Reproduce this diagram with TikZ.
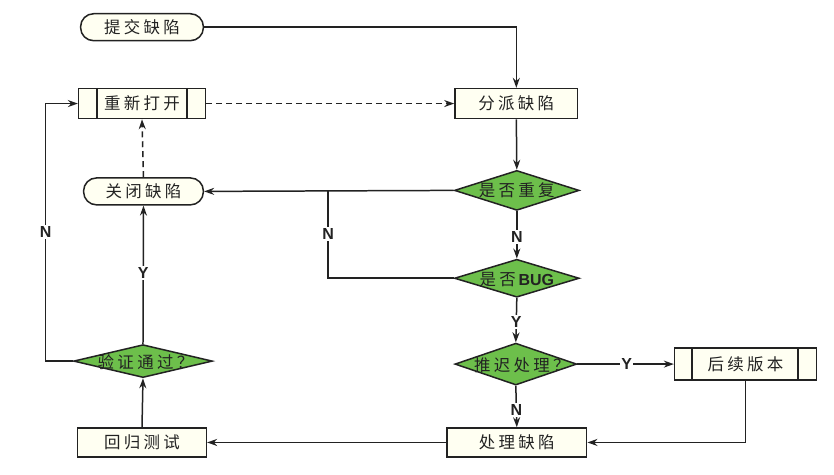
\documentclass[tikz,border=0pt]{standalone}
\usepackage{fontspec}
\newfontfamily\cjk[LetterSpace=20]{Noto Sans CJK SC}
\newfontfamily\lab{Liberation Sans}
\usetikzlibrary{shapes.geometric,arrows.meta}
\definecolor{cream}{HTML}{FFFFF2}
\definecolor{dgreen}{HTML}{6DBF4B}
\definecolor{ink}{HTML}{222222}
\begin{document}
\begin{tikzpicture}[x=1pt,y=-1pt, line width=1.5pt, draw=ink,
  >={Stealth[length=10pt,width=7pt]},
  cjkfont/.style={font=\cjk\fontsize{16.5}{16.5}\selectfont, text=ink},
  procbox/.style={draw=ink, fill=cream, minimum width=#1, minimum height=29pt, inner sep=0pt, cjkfont},
  termbox/.style={draw=ink, fill=cream, rounded corners=13pt, minimum width=#1, minimum height=27pt, inner sep=0pt, cjkfont},
  decide/.style n args={2}{draw=ink, fill=dgreen, diamond, minimum width=#1, minimum height=#2, inner sep=0pt},
  dtext/.style={cjkfont, inner sep=0pt},
  lbl/.style={fill=white, inner sep=1.5pt, font=\lab\bfseries\fontsize{16}{16}\selectfont, text=ink},
  every path/.style={draw=ink}]
\useasboundingbox (0,0) rectangle (834,474);
\fill[white] (0,0) rectangle (834,474);

% nodes
\node[termbox=123pt] (submit) at (141.5,26.5) {提交缺陷};
\node[procbox=127pt, minimum height=30pt] (reopen) at (141.5,103) {重新打开};
\node[termbox=120pt] (close) at (143,191) {关闭缺陷};
\node[procbox=123pt, minimum height=30pt] (assign) at (516.5,103) {分派缺陷};
\node[decide={125pt}{40pt}] (dup) at (517,190) {};
\node[dtext] (duptext) at (517,190) {是否重复};
\node[decide={125pt}{38pt}] (bug) at (517,278) {};
\node[dtext] (bugtext) at (517,279) {是否\,{\lab\bfseries\fontsize{16}{16}\selectfont BUG}};
\node[decide={122pt}{42pt}] (defer) at (516,364) {};
\node[dtext] (defertext) at (522,365) {推迟处理？};
\node[procbox=142pt, minimum height=32pt] (later) at (746,364) {后续版本};
\node[procbox=140pt] (handle) at (517,442.5) {处理缺陷};
\node[procbox=129pt] (regress) at (141.5,442.5) {回归测试};
\node[decide={139pt}{33pt}] (verify) at (142.5,361) {};
\node[dtext] (verifytext) at (145,362) {验证通过？};

% inner bars of predefined-process boxes
\draw ([xshift=19pt]reopen.north west) -- ([xshift=19pt]reopen.south west);
\draw ([xshift=-19pt]reopen.north east) -- ([xshift=-19pt]reopen.south east);
\draw ([xshift=18pt]later.north west) -- ([xshift=18pt]later.south west);
\draw ([xshift=-19pt]later.north east) -- ([xshift=-19pt]later.south east);

% helper coordinates
\coordinate (J) at (328,190);
\coordinate (K) at (45,361);

% connectors
\draw[->] (submit.east) -| (assign.north);
\draw[->, dash pattern=on 6pt off 4pt] (reopen.east) -- (assign.west);
\draw[->, dash pattern=on 6pt off 4pt] (close.north) -- (reopen.south);
\draw[->] (assign.south) -- (dup.north);
\draw[->] (dup.west) -- (close.east);
\draw (bug.west) -| node[lbl, pos=0.75] (nlab1) {N} (J);
\draw[->] (dup.south) -- node[lbl, pos=0.55] (nlab2) {N} (bug.north);
\draw[->] (bug.south) -- node[lbl, pos=0.55] (ylab1) {Y} (defer.north);
\draw[->] (defer.east) -- node[lbl, pos=0.51] (ylab2) {Y} (later.west);
\draw[->] (defer.south) -- node[lbl, pos=0.58] (nlab3) {N} (handle.north);
\draw[->] (later.south) |- (handle.east);
\draw[->] (handle.west) -- (regress.east);
\draw[->] (regress.north) -- (verify.south);
\draw[->] (verify.north) -- node[lbl, pos=0.51] (ylab3) {Y} (close.south);
\draw[->] (verify.west) -- (K) |- node[lbl, pos=0.25] (nlab4) {N} (reopen.west);
\end{tikzpicture}
\end{document}
